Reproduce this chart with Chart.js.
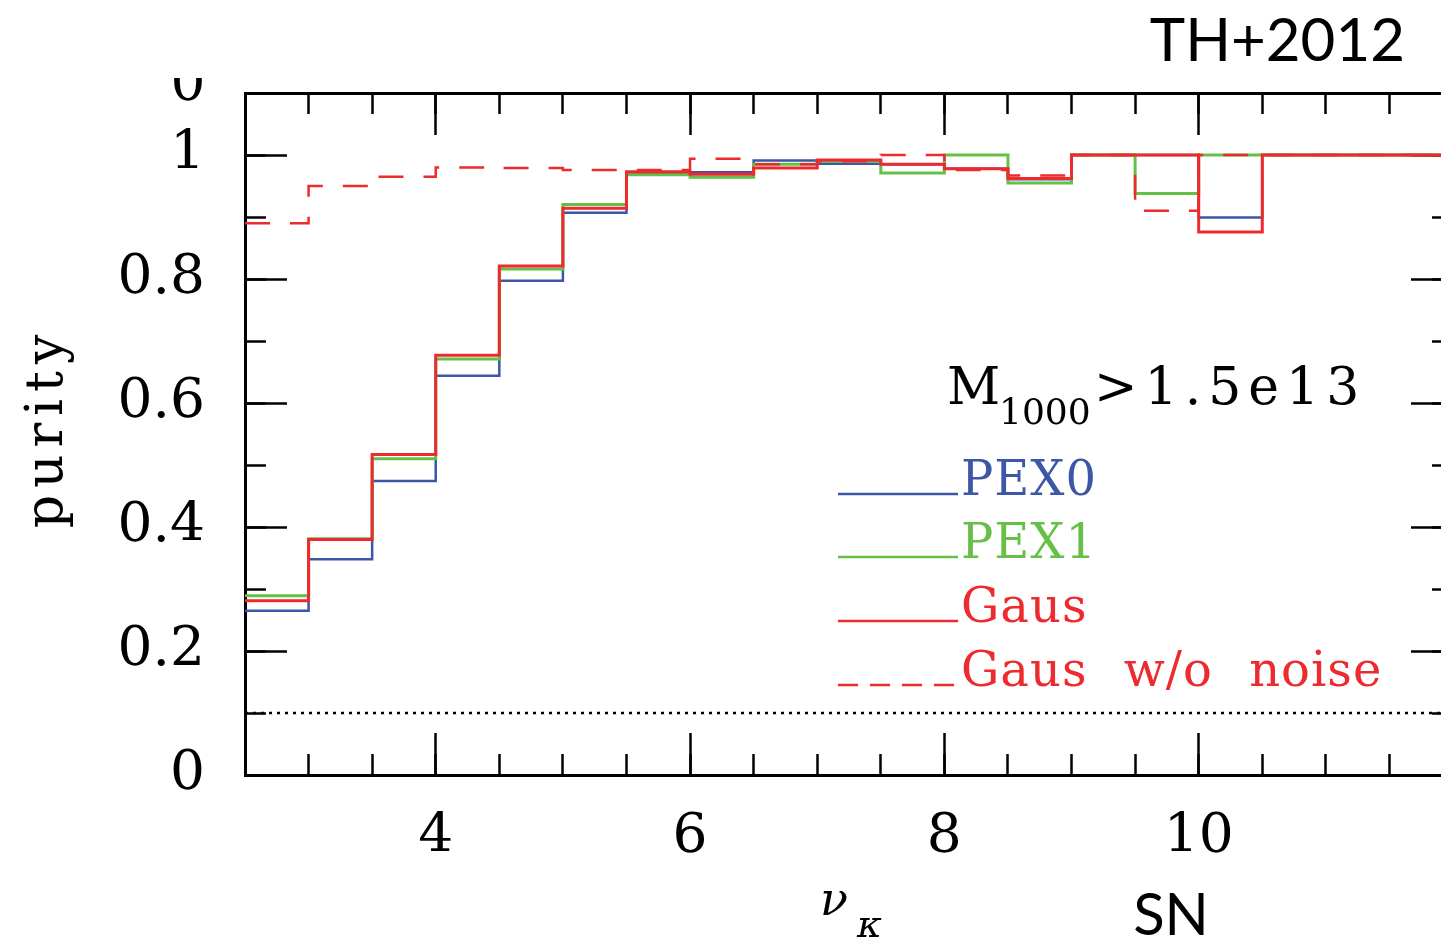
<!DOCTYPE html>
<html>
<head>
<meta charset="utf-8">
<script src="https://cdn.jsdelivr.net/npm/chart.js@4.4.1/dist/chart.umd.min.js"></script>
<style>
  html, body { margin: 0; padding: 0; background: #fff; overflow: hidden; }
  #wrap { width: 1441px; height: 940px; overflow: hidden; }
</style>
</head>
<body>
<div id="wrap"><canvas id="purity" width="1460" height="940"></canvas></div>
<script>
// bin edges in nu_kappa (SN), bins are 0.5 wide
const binEdges = [2.5, 3, 3.5, 4, 4.5, 5, 5.5, 6, 6.5, 7, 7.5, 8, 8.5, 9, 9.5, 10, 10.5, 11, 11.5, 12];

// purity per bin
const pex0 = [0.265, 0.348, 0.474, 0.644, 0.797, 0.907, 0.970, 0.972, 0.991, 0.986, 0.985, 0.978, 0.961, 1, 1, 0.899, 1, 1, 1];
const pex1 = [0.289, 0.381, 0.510, 0.671, 0.816, 0.920, 0.968, 0.964, 0.985, 0.990, 0.971, 1, 0.955, 1, 0.938, 1, 1, 1, 1];
const gaus = [0.281, 0.380, 0.517, 0.677, 0.821, 0.914, 0.973, 0.969, 0.979, 0.992, 0.985, 0.978, 0.962, 1, 1, 0.876, 1, 1, 1];
const gausNoNoise = [0.890, 0.950, 0.965, 0.980, 0.979, 0.976, 0.976, 0.994, 0.985, 0.990, 1, 0.976, 0.967, 1, 0.910, 1, 1, 1, 1];

// random-match level
const chanceLevel = [0.1, 0.1];

const xMajorTicks = [4, 6, 8, 10];
const yMajorTicks = [0, 0.2, 0.4, 0.6, 0.8, 1];

const BLUE = '#3d56a6';
const GREEN = '#66bf47';
const RED = '#ed2a2d';

// step histogram: one point per left edge, last value repeated at the right edge
function histPoints(values) {
    return binEdges.map((x, i) => ({ x: x, y: values[Math.min(i, values.length - 1)] }));
}

const series = [
    { label: 'PEX0', values: pex0, color: BLUE, width: 2.5, dash: [] },
    { label: 'PEX1', values: pex1, color: GREEN, width: 3, dash: [] },
    { label: 'Gaus', values: gaus, color: RED, width: 3, dash: [] },
    { label: 'Gaus w/o noise', values: gausNoNoise, color: RED, width: 2.5, dash: [25, 20] }
];

const datasets = series.map((s, i) => ({
    label: s.label,
    data: histPoints(s.values),
    borderColor: s.color,
    borderWidth: s.width,
    borderDash: s.dash,
    stepped: 'before',
    pointRadius: 0,
    fill: false,
    order: series.length - i
}));

datasets.push({
    label: 'chance',
    data: [
        { x: binEdges[0], y: chanceLevel[0] },
        { x: binEdges[binEdges.length - 1], y: chanceLevel[1] }
    ],
    borderColor: '#000',
    borderWidth: 2.5,
    borderDash: [3, 5],
    pointRadius: 0,
    fill: false,
    order: 10
});

function marks(len) {
    return { drawOnChartArea: false, drawTicks: true, tickLength: -len, tickWidth: 2.5, tickColor: '#000' };
}

// fixed axis sizes, no extra label padding pushing the frame around
function fixSize(w, h) {
    return s => {
        if (w !== null) s.width = w;
        if (h !== null) s.height = h;
        s.paddingTop = 0;
        s.paddingBottom = 0;
        s.paddingLeft = 0;
        s.paddingRight = 0;
    };
}

const FRAME = { display: true, width: 3, color: '#000' };
const NOFRAME = { display: false };
const tickFont = { family: 'DejaVu Serif', size: 55 };

function put(ctx, text, x, y, font, opts) {
    opts = opts || {};
    ctx.save();
    ctx.font = font;
    ctx.fillStyle = opts.color || '#000';
    ctx.textAlign = opts.align || 'left';
    ctx.textBaseline = 'alphabetic';
    if ('letterSpacing' in ctx) ctx.letterSpacing = (opts.spacing || 0) + 'px';
    if ('wordSpacing' in ctx) ctx.wordSpacing = (opts.wordSpacing || 0) + 'px';
    ctx.fillText(text, x, y);
    ctx.restore();
}

const annotations = {
    id: 'annotations',
    afterDraw(chart) {
        const ctx = chart.ctx;

        // corner tag and axis titles
        put(ctx, 'TH+2012', 1405, 61, '60px Lato', { align: 'right' });
        put(ctx, 'SN', 1171, 935, '58px Lato', { align: 'center' });
        put(ctx, 'ν', 820, 915, 'italic 46px "DejaVu Serif"');
        put(ctx, 'κ', 857, 937, 'italic 38px "DejaVu Serif"');

        ctx.save();
        ctx.translate(62, 432);
        ctx.rotate(-Math.PI / 2);
        put(ctx, 'purity', 4, 0, '52px "DejaVu Serif"', { align: 'center', spacing: 7 });
        ctx.restore();

        // clipped label peeking in above the frame
        ctx.save();
        ctx.beginPath();
        ctx.rect(150, 78, 80, 28);
        ctx.clip();
        put(ctx, '0', 188, 100, '55px "DejaVu Serif"', { align: 'center' });
        ctx.restore();

        // mass cut
        put(ctx, 'M', 947, 404, '52px "DejaVu Serif"');
        put(ctx, '1000', 999, 424, '36px "DejaVu Serif"');
        put(ctx, '>1.5e13', 1094, 404, '52px "DejaVu Serif"', { spacing: 7 });

        // legend
        const rowY = [494, 557, 621, 685];
        series.forEach((s, i) => {
            const y = rowY[i];
            ctx.save();
            ctx.strokeStyle = s.color;
            ctx.lineWidth = 2.5;
            ctx.setLineDash(s.dash.length ? [20, 12] : []);
            ctx.beginPath();
            ctx.moveTo(838, y);
            ctx.lineTo(958, y);
            ctx.stroke();
            ctx.restore();
            put(ctx, s.label, 961, y + 1, '48px "DejaVu Serif"', { color: s.color, spacing: 1, wordSpacing: 20 });
        });
    }
};

new Chart(document.getElementById('purity'), {
    type: 'line',
    data: { datasets: datasets },
    options: {
        responsive: false,
        animation: false,
        devicePixelRatio: 1,
        layout: { padding: { top: 93, right: 7, bottom: 0, left: 0 } },
        plugins: { legend: { display: false }, tooltip: { enabled: false } },
        scales: {
            x: {
                type: 'linear', position: 'bottom', min: 2.5, max: 12, weight: 1,
                afterBuildTicks: s => { s.ticks = xMajorTicks.map(v => ({ value: v })); },
                afterFit: fixSize(null, 165),
                grid: marks(42),
                border: FRAME,
                ticks: { padding: 72, font: tickFont, color: '#000', autoSkip: false, maxRotation: 0, callback: v => String(v) }
            },
            xMinor: {
                type: 'linear', position: 'bottom', min: 2.5, max: 12, weight: 0,
                afterFit: fixSize(null, 0),
                grid: marks(21),
                border: NOFRAME,
                ticks: { display: false, stepSize: 0.5, autoSkip: false, includeBounds: false }
            },
            xTop: {
                type: 'linear', position: 'top', min: 2.5, max: 12, weight: 1,
                afterBuildTicks: s => { s.ticks = xMajorTicks.map(v => ({ value: v })); },
                afterFit: fixSize(null, 0),
                grid: marks(42),
                border: FRAME,
                ticks: { display: false, autoSkip: false }
            },
            xTopMinor: {
                type: 'linear', position: 'top', min: 2.5, max: 12, weight: 0,
                afterFit: fixSize(null, 0),
                grid: marks(21),
                border: NOFRAME,
                ticks: { display: false, stepSize: 0.5, autoSkip: false, includeBounds: false }
            },
            y: {
                type: 'linear', position: 'left', min: 0, max: 1.1, weight: 1,
                afterBuildTicks: s => { s.ticks = yMajorTicks.map(v => ({ value: v })); },
                afterFit: fixSize(245, null),
                grid: marks(42),
                border: FRAME,
                ticks: { padding: 82, font: tickFont, color: '#000', autoSkip: false, callback: v => String(v) }
            },
            yMinor: {
                type: 'linear', position: 'left', min: 0, max: 1.1, weight: 0,
                afterFit: fixSize(0, null),
                grid: marks(21),
                border: NOFRAME,
                ticks: { display: false, stepSize: 0.1, autoSkip: false, includeBounds: false }
            },
            yRight: {
                type: 'linear', position: 'right', min: 0, max: 1.1, weight: 1,
                afterBuildTicks: s => { s.ticks = yMajorTicks.map(v => ({ value: v })); },
                afterFit: fixSize(0, null),
                grid: marks(42),
                border: FRAME,
                ticks: { display: false, autoSkip: false }
            },
            yRightMinor: {
                type: 'linear', position: 'right', min: 0, max: 1.1, weight: 0,
                afterFit: fixSize(0, null),
                grid: marks(21),
                border: NOFRAME,
                ticks: { display: false, stepSize: 0.1, autoSkip: false, includeBounds: false }
            }
        }
    },
    plugins: [annotations]
});
</script>
</body>
</html>
